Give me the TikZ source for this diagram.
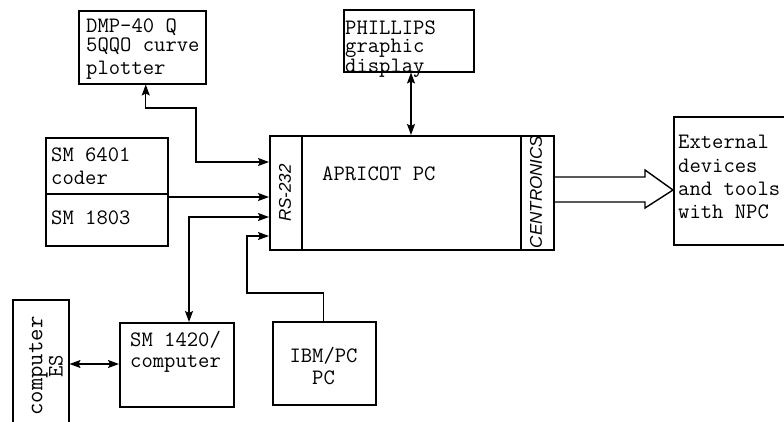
\documentclass[tikz,border=0pt]{standalone}
\usepackage{fontspec}
\newfontfamily\lsans{Liberation Sans}
\usetikzlibrary{arrows.meta,calc}
\begin{document}
\begin{tikzpicture}[x=1pt,y=-1pt,
  box/.style={draw, line width=1.5pt, inner sep=0pt, anchor=north west},
  txt/.style={inner sep=0pt, anchor=north west, align=left, font=\ttfamily\fontsize{22}{23}\selectfont},
  rot/.style={inner sep=0pt, rotate=90, font=\lsans\itshape\fontsize{17}{18}\selectfont},
  conn/.style={line width=1.4pt},
  tip/.style={conn, -{Stealth[length=11pt,width=8pt,inset=2pt]}},
  both/.style={conn, {Stealth[length=11pt,width=8pt,inset=2pt]}-{Stealth[length=11pt,width=8pt,inset=2pt]}}]
\useasboundingbox (0,0) rectangle (784,421);

% boxes
\node[box, minimum width=127pt, minimum height=73pt] (dmp) at (78,10) {};
\node[box, minimum width=130pt, minimum height=62pt] (phil) at (343,9) {};
\node[box, minimum width=122pt, minimum height=56pt] (sma) at (45,137) {};
\node[box, minimum width=122pt, minimum height=52pt] (smb) at (45,193) {};
\node[box, minimum width=32pt, minimum height=114pt] (rs) at (269,135) {};
\node[box, minimum width=219pt, minimum height=114pt] (apr) at (301,135) {};
\node[box, minimum width=33pt, minimum height=114pt] (cen) at (520,135) {};
\node[box, minimum width=130pt, minimum height=128pt] (ext) at (673,116) {};
\node[box, minimum width=56pt, minimum height=140pt] (es) at (12,299) {};
\node[box, minimum width=114pt, minimum height=84pt] (sm14) at (119,322) {};
\node[box, minimum width=103pt, minimum height=83pt] (ibm) at (272,321) {};

% texts
\node[txt] (tdmp) at (86,19) {DMP-40 Q\\[-4pt]5QQO curve\\[0pt]plotter};
\node[txt] (tphil) at (345,21) {PHILLIPS\\[-5pt]graphic\\[-3pt]display};
\node[txt] (tsma) at (51,148) {SM 6401\\coder};
\node[txt] (tsmb) at (51,211) {SM 1803};
\node[txt] (tapr) at (322,167) {APRICOT PC};
\node[txt] (text) at (678,135) {External\\[1pt]devices\\and tools\\with NPC};
\node[txt] (tsm14) at (130,331) {SM 1420/\\[-2pt]computer};
\node[txt, anchor=north, align=center] (tibm) at (323.5,347) {IBM/PC\\[-1pt]PC};
\node[inner sep=0pt, rotate=90, align=center, font=\ttfamily\fontsize{22}{17}\selectfont] (tes) at (46,366) {{\fontsize{24}{17}\selectfont computer}\\ES};
\node[rot] (trs) at (285,193) {RS-232};
\node[rot] (tcen) at (536,192) {CENTRONICS};

% connection points on the RS-232 edge
\coordinate (p1) at (rs.west |- 0,162);
\coordinate (p2) at (rs.west |- 0,197);
\coordinate (p3) at (rs.west |- 0,217);
\coordinate (p4) at (rs.west |- 0,236);
\coordinate (b1) at (196,108);
\coordinate (b4) at (247,293);

% connectors
\draw[both] ([xshift=3.5pt]dmp.south) |- (b1) |- (p1);
\draw[tip] (sma.east |- p2) -- (p2);
\draw[both] (sm14.north -| 189,0) |- (p3);
\draw[tip] ([xshift=-0.5pt]ibm.north) |- (b4) |- (p4);
\draw[both] (phil.south -| 411,0) -- (apr.north -| 411,0);
\draw[both] (es.east |- 0,364) -- (sm14.west |- 0,364);

% hollow arrow
\coordinate (h1) at (cen.east |- 0,177);
\coordinate (h2) at (cen.east |- 0,202);
\coordinate (htip) at (ext.west |- 0,190);
\draw[line width=1.4pt, line join=miter] (h1) -- (645,177) -- (645,170) -- (htip) -- (645,208) -- (645,202) -- (h2);
\end{tikzpicture}
\end{document}
